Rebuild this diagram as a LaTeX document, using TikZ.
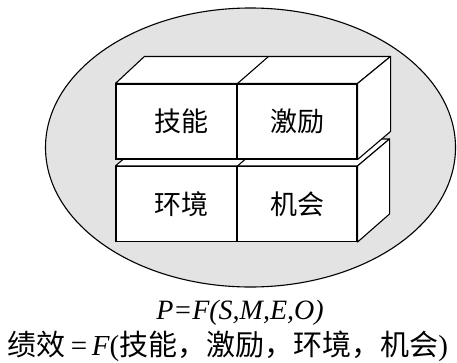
\documentclass[tikz,border=0pt]{standalone}
\usepackage{fontspec}
\setmainfont{Liberation Serif}
\newfontfamily\cjk{Noto Sans CJK SC}
\usetikzlibrary{shapes.geometric}
\begin{document}
\begin{tikzpicture}[x=1pt,y=-1pt,
  box/.style={draw, line width=1.1pt, fill=white, minimum height=75pt, inner sep=0pt, font=\cjk\fontsize{27}{27}\selectfont},
  face/.style={draw, line width=1.1pt, fill=white, line join=round},
  formula/.style={inner sep=0pt}]
\useasboundingbox (0,0) rectangle (457,362);
\node (bg) [draw, ellipse, line width=1.1pt, fill=black!11, minimum width=410pt, minimum height=279pt, inner sep=0pt] at (250.5,147.5) {};
% bottom row
\node[box, minimum width=121pt] (bl) at (176.5,204) {\hspace*{10pt}环境};
\node[box, minimum width=120pt] (br) at (297,204) {机会};
\draw[face] (bl.north west) -- ++(31,-27) -- ([shift={(32,-27)}]br.north east) -- (br.north east) -- cycle;
\draw[line width=1.1pt] (bl.north east) -- ++(31,-27);
\draw[face] (br.north east) -- ++(32,-27) -- ++(0,75) -- (br.south east) -- cycle;
% top row
\node[box, minimum width=121pt] (tl) at (176.5,121.5) {\hspace*{10pt}技能};
\node[box, minimum width=120pt] (tr) at (297,121.5) {激励};
\draw[face] (tl.north west) -- ++(29,-27) -- ([shift={(33,-27)}]tr.north east) -- (tr.north east) -- cycle;
\draw[line width=1.1pt] (tl.north east) -- ++(31,-27);
\draw[face] (tr.north east) -- ++(33,-27) -- ++(0,75) -- (tr.south east) -- cycle;
% formulas
\node[formula, font=\fontsize{28}{28}\selectfont] (f1) at (240,313) {\itshape P=F(S,M,E,O)};
\node[formula, font=\fontsize{29}{29}\selectfont] (f2) at (228,346) {{\cjk 绩效}\,=\,{\itshape F}({\cjk 技能，激励，环境，机会})};
\end{tikzpicture}
\end{document}
